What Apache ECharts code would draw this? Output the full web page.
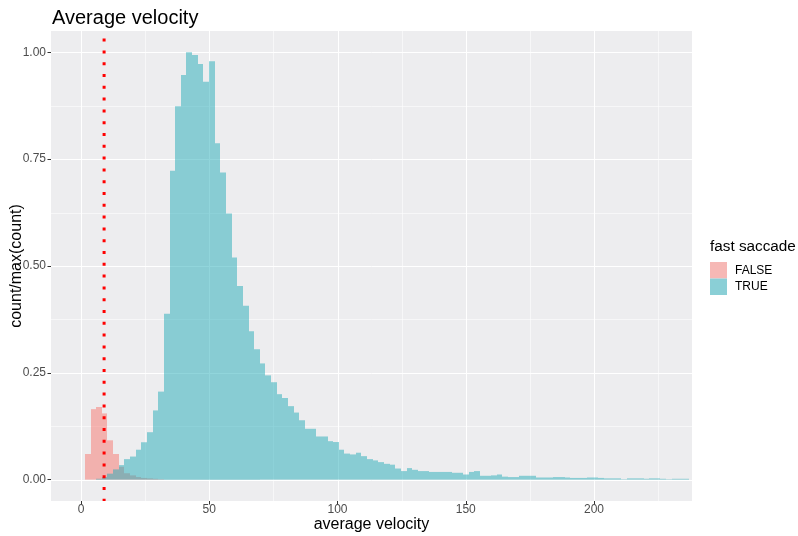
<!DOCTYPE html>
<html><head><meta charset="utf-8">
<script src="https://cdn.jsdelivr.net/npm/echarts@6/dist/echarts.min.js"></script>
<style>html,body{margin:0;padding:0;background:#fff}#c{width:798px;height:536px}</style>
</head><body><div id="c"></div>
<script>
// ---- data ----
const binStart = 1.5;
const binWidth = 2.2;
const falseCounts = [0.06, 0.165, 0.17, 0.155, 0.092, 0.06, 0.03, 0.015, 0.01, 0.006, 0.004, 0.003, 0.002, 0.001];
const trueCounts = [
  0, 0, 0.002, 0.006, 0.014, 0.024, 0.034, 0.048, 0.054, 0.07,
  0.0875, 0.111, 0.162, 0.206, 0.388, 0.723, 0.874, 0.947, 1.0, 0.994,
  0.973, 0.931, 0.979, 0.787, 0.719, 0.623, 0.52, 0.453, 0.407, 0.347,
  0.305, 0.272, 0.244, 0.228, 0.2, 0.191, 0.172, 0.157, 0.139, 0.119,
  0.119, 0.101, 0.101, 0.09, 0.088, 0.07, 0.061, 0.059, 0.063, 0.055,
  0.048, 0.045, 0.041, 0.037, 0.035, 0.026, 0.02, 0.027, 0.023, 0.02,
  0.02, 0.018, 0.018, 0.018, 0.018, 0.016, 0.016, 0.012, 0.018, 0.02,
  0.009, 0.009, 0.01, 0.012, 0.007, 0.006, 0.006, 0.009, 0.009, 0.009,
  0.005, 0.005, 0.005, 0.006, 0.006, 0.005, 0.004, 0.004, 0.004, 0.005,
  0.005, 0.004, 0.003, 0.003, 0.003, 0.001, 0.003, 0.003, 0.003, 0.002,
  0.003, 0.003, 0.002, 0.001, 0.002, 0.002, 0.002
];
const xTicks = [0, 50, 100, 150, 200];
const xMinor = [25, 75, 125, 175, 225];
const yTicks = [0, 0.25, 0.5, 0.75, 1.0];
const yMinor = [0.125, 0.375, 0.625, 0.875];
const thresholdX = 9;
const xRange = [-11.7, 238.2];
const yRange = [-0.05, 1.05];
const seriesNames = ['FALSE', 'TRUE'];

// ---- build ----
const FONT = '"Liberation Sans", Arial, sans-serif';
function toBins(arr) {
  return arr.map((v, i) => [binStart + i * binWidth, binStart + (i + 1) * binWidth, v]);
}
function barItem(params, api) {
  const h = api.value(2);
  if (!(h > 0)) return null;
  const a = api.coord([api.value(0), h]);
  const b = api.coord([api.value(1), 0]);
  const x0 = Math.round(a[0]), x1 = Math.round(b[0]);
  return { type: 'rect', shape: { x: x0, y: a[1], width: x1 - x0, height: b[1] - a[1] },
           style: { fill: api.visual('color') } };
}
function vGrid(alpha) {
  return function (params, api) {
    const cs = params.coordSys;
    const x = Math.round(api.coord([api.value(0), 0])[0]) + 0.5;
    return { type: 'line', shape: { x1: x, y1: cs.y, x2: x, y2: cs.y + cs.height },
             style: { stroke: 'rgba(255,255,255,' + alpha + ')', lineWidth: 1 } };
  };
}
function hGrid(alpha) {
  return function (params, api) {
    const cs = params.coordSys;
    const y = Math.round(api.coord([0, api.value(1)])[1]) + 0.5;
    return { type: 'line', shape: { x1: cs.x, y1: y, x2: cs.x + cs.width, y2: y },
             style: { stroke: 'rgba(255,255,255,' + alpha + ')', lineWidth: 1 } };
  };
}
function vLine(params, api) {
  const cs = params.coordSys;
  const x = api.coord([api.value(0), 0])[0];
  return { type: 'line', shape: { x1: x, y1: cs.y, x2: x, y2: cs.y + cs.height },
           style: { stroke: '#FF0000', lineWidth: 3, lineDash: [3, 8.8], lineDashOffset: 4.2, lineCap: 'butt' } };
}

const chart = echarts.init(document.getElementById('c'), null, { renderer: 'canvas' });
chart.setOption({
  animation: false,
  backgroundColor: '#ffffff',
  textStyle: { fontFamily: FONT },
  title: { text: 'Average velocity', left: 52, top: 8, padding: 0,
           textStyle: { fontSize: 20, fontWeight: 'normal', color: '#000', fontFamily: FONT } },
  grid: { left: 51, right: 106, top: 31, bottom: 35, show: true, backgroundColor: '#EDEDEF', borderWidth: 0,
          containLabel: false, outerBoundsMode: 'none' },
  xAxis: {
    type: 'value', min: xRange[0], max: xRange[1],
    name: 'average velocity', nameLocation: 'middle', nameGap: 16, nameMoveOverlap: false,
    nameTextStyle: { fontSize: 16, color: '#000', fontFamily: FONT, verticalAlign: 'top' },
    axisLine: { show: false, onZero: false },
    axisTick: { show: true, length: 3.5, customValues: xTicks, lineStyle: { color: '#333333', width: 1 } },
    axisLabel: { customValues: xTicks, color: '#4D4D4D', fontSize: 12, margin: 3, fontFamily: FONT },
    splitLine: { show: false }
  },
  yAxis: {
    type: 'value', min: yRange[0], max: yRange[1],
    name: 'count/max(count)', nameLocation: 'middle', nameGap: 34, nameMoveOverlap: false,
    nameTextStyle: { fontSize: 16, color: '#000', fontFamily: FONT, verticalAlign: 'middle' },
    axisLine: { show: false, onZero: false },
    axisTick: { show: true, length: 3.5, customValues: yTicks, lineStyle: { color: '#333333', width: 1 } },
    axisLabel: { customValues: yTicks, color: '#4D4D4D', fontSize: 12, margin: 5, fontFamily: FONT,
                 formatter: v => Number(v).toFixed(2) },
    splitLine: { show: false }
  },
  legend: {
    orient: 'vertical', left: 710, top: 262, padding: 0, itemWidth: 17, itemHeight: 16.5, itemGap: 0, icon: 'rect',
    textStyle: { fontSize: 12, color: '#000', fontFamily: FONT, padding: [0, 0, 0, 3] },
    data: [ { name: seriesNames[0], itemStyle: { color: '#F6B8B5' } },
            { name: seriesNames[1], itemStyle: { color: '#8ACFD6' } } ],
    selectedMode: false
  },
  graphic: [ { type: 'text', left: 710, top: 239,
               style: { text: 'fast saccade', fill: '#000', font: '15.3px ' + FONT } } ],
  series: [
    { type: 'custom', name: 'gx', z: 1, silent: true, renderItem: vGrid(0.55), data: xMinor.map(v => [v, 0]) },
    { type: 'custom', name: 'gy', z: 1, silent: true, renderItem: hGrid(0.55), data: yMinor.map(v => [0, v]) },
    { type: 'custom', name: 'GX', z: 1, silent: true, renderItem: vGrid(1), data: xTicks.map(v => [v, 0]) },
    { type: 'custom', name: 'GY', z: 1, silent: true, renderItem: hGrid(1), data: yTicks.map(v => [0, v]) },
    { type: 'custom', name: seriesNames[0], z: 2, renderItem: barItem, itemStyle: { color: 'rgba(248,118,109,0.5)' },
      encode: { x: [0, 1], y: 2 }, data: toBins(falseCounts) },
    { type: 'custom', name: seriesNames[1], z: 3, renderItem: barItem, itemStyle: { color: 'rgba(36,172,184,0.5)' },
      encode: { x: [0, 1], y: 2 }, data: toBins(trueCounts) },
    { type: 'custom', name: 'threshold', z: 4, silent: true, renderItem: vLine, data: [[thresholdX, 0]] }
  ]
});
</script>
</body></html>
